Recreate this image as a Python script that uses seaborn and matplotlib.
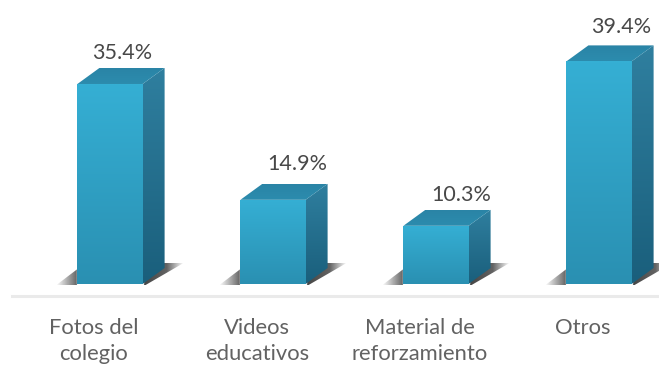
import numpy as np
import matplotlib
matplotlib.use("Agg")
import matplotlib.pyplot as plt
from matplotlib.colors import to_rgb
from matplotlib.patches import Polygon
import pandas as pd
import seaborn as sns

categories = ["Fotos del\ncolegio", "Videos\neducativos", "Material de\nreforzamiento", "Otros"]
values = [35.4, 14.9, 10.3, 39.4]
value_labels = ["35.4%", "14.9%", "10.3%", "39.4%"]

# Pixel layout of the 659x366 canvas
W, H = 659, 366
PX_PER_UNIT = 5.65
PX_PER_CAT = 163.0
FIRST_BAR_PX = 110.0
BASE_PX = 284.0
AXIS_PX = 296.0
LEFT_PX = 12.0
DEPTH_X = 22 / PX_PER_CAT
DEPTH_Y = 16 / PX_PER_UNIT

sns.set_theme(style="white")
plt.rcParams["font.family"] = ["Lato", "DejaVu Sans"]

fig = plt.figure(figsize=(W / 100, H / 100), dpi=100, facecolor="white")
ax = fig.add_axes([LEFT_PX / W, (H - AXIS_PX) / H, 1 - LEFT_PX / W, AXIS_PX / H])

df = pd.DataFrame({"categoria": categories, "valor": values})
sns.barplot(data=df, x="categoria", y="valor", color="#2F9FC4", width=0.4, saturation=1, ax=ax, zorder=3)

xlim = ((LEFT_PX - FIRST_BAR_PX) / PX_PER_CAT, (W - FIRST_BAR_PX) / PX_PER_CAT)
ylim = (-(AXIS_PX - BASE_PX) / PX_PER_UNIT, BASE_PX / PX_PER_UNIT)


def vertical_gradient(verts, top, bottom, zorder):
    """Fill a polygon with a top-to-bottom colour ramp."""
    verts = np.asarray(verts)
    ramp = np.linspace(to_rgb(top), to_rgb(bottom), 64)[:, None, :]
    img = ax.imshow(ramp, aspect="auto", zorder=zorder, interpolation="bilinear",
                    extent=(verts[:, 0].min(), verts[:, 0].max(), verts[:, 1].min(), verts[:, 1].max()))
    clip = Polygon(verts, closed=True, transform=ax.transData, fc="none", ec="none")
    ax.add_patch(clip)
    img.set_clip_path(clip)


def cast_shadow(x0, x1, zorder):
    """Soft ground shadow around a bar's foot, fading towards both tips."""
    left, right = x0 - 21 / PX_PER_CAT, x1 + 41 / PX_PER_CAT
    xs = np.linspace(left, right, 256)
    alpha = np.interp(xs, [left, x0, x1, x1 + 24 / PX_PER_CAT, right], [0.0, 0.8, 0.95, 0.8, 0.0])
    rgba = np.zeros((1, 256, 4))
    rgba[..., :3] = to_rgb("#3A3A3A")
    rgba[0, :, 3] = alpha
    y_low, y_high = -1 / PX_PER_UNIT, 21 / PX_PER_UNIT
    img = ax.imshow(rgba, aspect="auto", zorder=zorder, interpolation="bilinear",
                    extent=(left, right, y_low, y_high))
    clip = Polygon([(left, y_low), (x1 + 3 / PX_PER_CAT, y_low), (right, y_high), (x0 + 8 / PX_PER_CAT, y_high)],
                   closed=True, transform=ax.transData, fc="none", ec="none")
    ax.add_patch(clip)
    img.set_clip_path(clip)


for bar in list(ax.patches):
    x0, x1 = bar.get_x(), bar.get_x() + bar.get_width()
    top = bar.get_height()
    cast_shadow(x0, x1, 1)
    # Front face
    vertical_gradient([(x0, 0), (x1, 0), (x1, top), (x0, top)], "#35AFD4", "#2A90B2", 4)
    # Right side face
    vertical_gradient([(x1, 0), (x1 + DEPTH_X, DEPTH_Y), (x1 + DEPTH_X, top + DEPTH_Y), (x1, top)],
                      "#2F7F9F", "#1A5F7C", 4)
    # Top face
    vertical_gradient([(x0, top), (x1, top), (x1 + DEPTH_X, top + DEPTH_Y), (x0 + DEPTH_X, top + DEPTH_Y)],
                      "#2A84A6", "#2C8CAE", 4)

# Value labels sit above the top face; offsets in points from each bar's front-top centre
label_dx = [9, 17.5, 18, 16]
label_dy = [22, 25.5, 22, 25]
for bar, text, dx, dy in zip(ax.patches, value_labels, label_dx, label_dy):
    ax.annotate(text, (bar.get_x() + bar.get_width() / 2, bar.get_height()),
                xytext=(dx, dy), textcoords="offset points", ha="center", va="center",
                fontsize=15.5, color="#484848", zorder=6, annotation_clip=False)

# Category labels are centred a little to the left of the bars
ax.set_xticks(np.arange(len(categories)) - 16 / PX_PER_CAT, labels=categories)
ax.tick_params(axis="x", length=0, pad=15.5, labelsize=15.8, labelcolor="#626262")
for lab in ax.get_xticklabels():
    lab.set_linespacing(1.4)
ax.set_yticks([])
ax.set_xlabel("")
ax.set_ylabel("")
ax.set_xlim(*xlim)
ax.set_ylim(*ylim)
ax.patch.set_alpha(0)
for side in ("top", "left", "right"):
    ax.spines[side].set_visible(False)
ax.spines["bottom"].set_color("#EAEAEA")
ax.spines["bottom"].set_linewidth(2.2)

fig.savefig("out.png", dpi=100, facecolor="white")
